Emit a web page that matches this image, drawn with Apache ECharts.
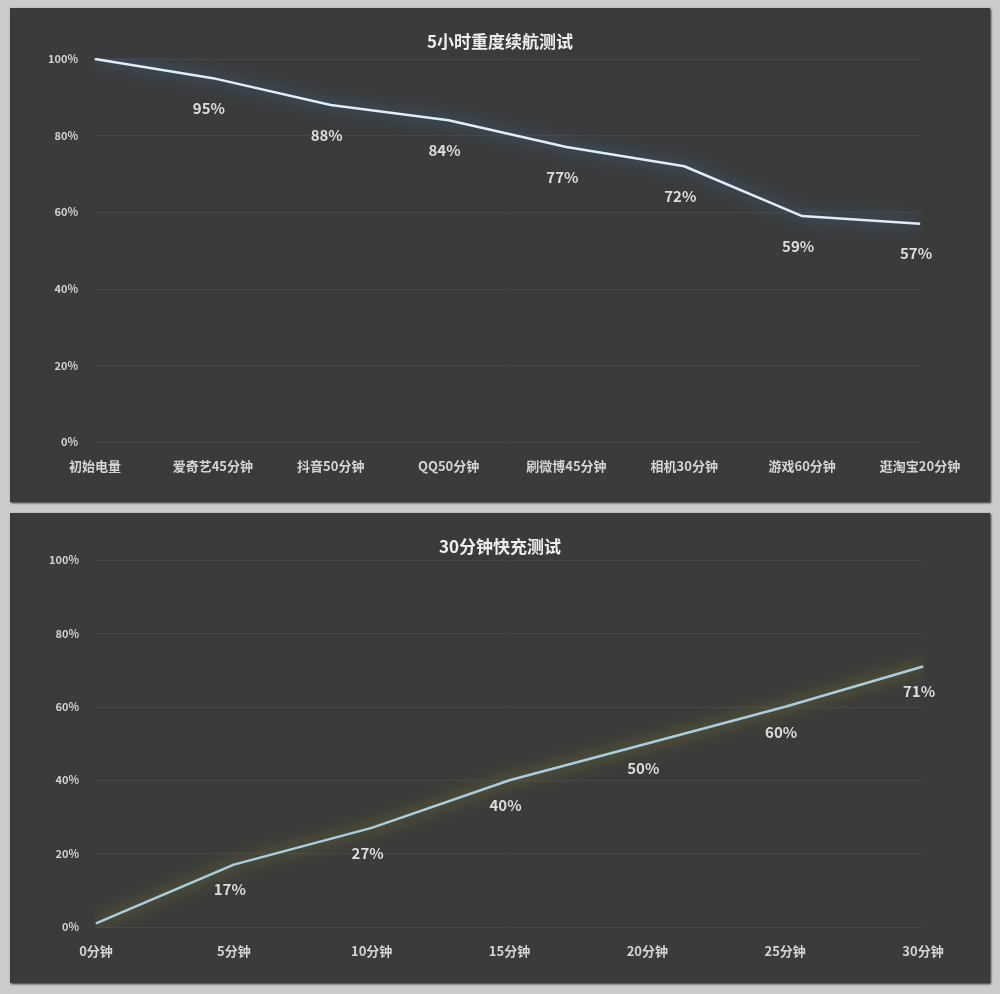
<!DOCTYPE html>
<html>
<head>
<meta charset="utf-8">
<script src="https://cdn.jsdelivr.net/npm/echarts@6/dist/echarts.min.js"></script>
<style>
body{margin:0;background:#cbcbcb;width:1000px;height:994px;position:relative;overflow:hidden}
.panel{position:absolute;left:10px;width:980px;background:#3b3b3b;box-shadow:1px 1px 2px #2a2a2a}
</style>
</head>
<body>
<div id="batteryChart" class="panel" style="top:8px;height:494px"></div>
<div id="chargeChart" class="panel" style="top:513px;height:470px"></div>
<script>
const batteryCats = ['初始电量','爱奇艺45分钟','抖音50分钟','QQ50分钟','刷微博45分钟','相机30分钟','游戏60分钟','逛淘宝20分钟'];
const batteryVals = [100, 95, 88, 84, 77, 72, 59, 57];
const chargeCats = ['0分钟','5分钟','10分钟','15分钟','20分钟','25分钟','30分钟'];
const chargeVals = [1, 17, 27, 40, 50, 60, 71];
const yTicks = [0, 20, 40, 60, 80, 100];

const font = '"Noto Sans CJK SC", "Noto Sans", sans-serif';

function makeOption(title, cats, vals, grid, lineColor, glow, labelDist) {
    // first point has no label in the original
    let data = [];
    for (let i = 0; i < vals.length; i++) {
        data.push(i === 0 ? {value: vals[i], label: {show: false}} : vals[i]);
    }
    return {
        animation: false,
        textStyle: {fontFamily: font},
        title: {
            text: title,
            left: 'center',
            top: grid.titleTop,
            textStyle: {color: '#eeeeee', fontSize: 17, fontWeight: 'bold', fontFamily: font}
        },
        grid: {left: grid.left, right: grid.right, top: grid.top, bottom: grid.bottom},
        xAxis: {
            type: 'category',
            data: cats,
            boundaryGap: false,
            axisLine: {show: false},
            axisTick: {show: false},
            axisLabel: {color: '#d4d4d4', fontSize: 13, fontWeight: 'bold', margin: 18, fontFamily: font}
        },
        yAxis: {
            type: 'value',
            min: yTicks[0],
            max: yTicks[yTicks.length - 1],
            interval: 20,
            axisLabel: {color: '#d2d2d2', fontSize: 11, fontWeight: 'bold', margin: 17, formatter: '{value}%', fontFamily: font},
            splitLine: {lineStyle: {color: '#474747', width: 1}}
        },
        series: [{
            type: 'line',
            data: data,
            symbol: 'circle',
            symbolSize: 1,
            itemStyle: {color: lineColor},
            lineStyle: {color: lineColor, width: 2.5, shadowColor: glow, shadowBlur: 16},
            label: {
                show: true,
                position: 'bottom',
                distance: labelDist,
                offset: [-4, 0],
                formatter: '{c}%',
                color: '#dcdcdc',
                fontSize: 15,
                fontWeight: 'bold',
                fontFamily: font
            }
        }]
    };
}

const chart1 = echarts.init(document.getElementById('batteryChart'));
chart1.setOption(makeOption('5小时重度续航测试', batteryCats, batteryVals,
    {left: 85, right: 70, top: 51, bottom: 60, titleTop: 20},
    '#e2ecf6', 'rgba(60,130,200,1)', 22));

const chart2 = echarts.init(document.getElementById('chargeChart'));
chart2.setOption(makeOption('30分钟快充测试', chargeCats, chargeVals,
    {left: 86, right: 67, top: 47, bottom: 56, titleTop: 20},
    '#a4cfe4', 'rgba(170,170,20,1)', 17));
</script>
</body>
</html>
